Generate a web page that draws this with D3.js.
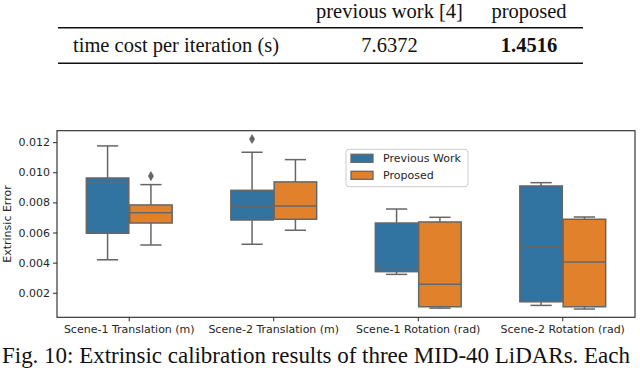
<!DOCTYPE html>
<html>
<head>
<meta charset="utf-8">
<script src="https://cdn.jsdelivr.net/npm/d3@7"></script>
<style>
  html, body { margin: 0; padding: 0; background: #fff; }
  svg { display: block; }
</style>
</head>
<body>
<svg id="chart" width="640" height="368"></svg>
<script>
// ---------- data ----------
const tableColumns = ["previous work [4]", "proposed"];
const tableRowLabel = "time cost per iteration (s)";
const tableValues = ["7.6372", "1.4516"];

const categories = ["Scene-1 Translation (m)", "Scene-2 Translation (m)", "Scene-1 Rotation (rad)", "Scene-2 Rotation (rad)"];
const seriesNames = ["Previous Work", "Proposed"];
const seriesColors = ["#3274a1", "#e1812c"];

const prevLow  = [0.00419, 0.00522, 0.00322, 0.00116];
const prevQ1   = [0.00595, 0.00683, 0.00340, 0.00140];
const prevMed  = [0.00927, 0.00776, 0.00366, 0.00506];
const prevQ3   = [0.00962, 0.00880, 0.00663, 0.00909];
const prevHigh = [0.01175, 0.01133, 0.00756, 0.00931];
const prevOut  = [[], [0.01221], [], []];

const propLow  = [0.00517, 0.00615, 0.00098, 0.00092];
const propQ1   = [0.00663, 0.00688, 0.00107, 0.00107];
const propMed  = [0.00732, 0.00776, 0.00256, 0.00404];
const propQ3   = [0.00783, 0.00936, 0.00670, 0.00688];
const propHigh = [0.00918, 0.01084, 0.00701, 0.00703];
const propOut  = [[0.00975], [], [], []];

const yTicks = [0.002, 0.004, 0.006, 0.008, 0.010, 0.012];
const yDomain = [0.00037, 0.01276];
const yLabel = "Extrinsic Error";
const caption = "Fig. 10: Extrinsic calibration results of three MID-40 LiDARs. Each";

// ---------- drawing ----------
const svg = d3.select("#chart");
const serif = "'Liberation Serif', 'Times New Roman', serif";
const sans = "'DejaVu Sans', sans-serif";

// Table
const tbl = svg.append("g");
const colCenters = [389.5, 529];
tbl.selectAll("text.hdr").data(tableColumns).join("text")
  .attr("x", (d, i) => colCenters[i]).attr("y", 17.5)
  .attr("text-anchor", "middle").attr("font-family", serif).attr("font-size", 20.5)
  .attr("fill", "#111").text(d => d);
[27.7, 63.3].forEach(y => tbl.append("line")
  .attr("x1", 58).attr("x2", 583).attr("y1", y).attr("y2", y)
  .attr("stroke", "#111").attr("stroke-width", 1.4));
tbl.append("text").attr("x", 73).attr("y", 51.5)
  .attr("font-family", serif).attr("font-size", 20.5).attr("fill", "#111").text(tableRowLabel);
tbl.selectAll("text.val").data(tableValues).join("text")
  .attr("x", (d, i) => colCenters[i]).attr("y", 51.5)
  .attr("text-anchor", "middle").attr("font-family", serif).attr("font-size", 20.5)
  .attr("font-weight", (d, i) => i === 1 ? "bold" : "normal")
  .attr("fill", "#111").text(d => d);

// Box plot
const plot = { left: 57, right: 635, top: 130.7, bottom: 317.3 };
const x = d3.scaleBand().domain(categories).range([plot.left, plot.right]).padding(0);
const y = d3.scaleLinear().domain(yDomain).range([plot.bottom, plot.top]);

const series = [
  { low: prevLow, q1: prevQ1, med: prevMed, q3: prevQ3, high: prevHigh, out: prevOut },
  { low: propLow, q1: propQ1, med: propMed, q3: propQ3, high: propHigh, out: propOut }
];
const groupWidth = 0.6;
const hueW = x.bandwidth() * groupWidth / seriesNames.length;
const boxW = hueW * 0.98;
const lineColor = "#666666";

const boxes = [];
series.forEach((s, si) => categories.forEach((c, ci) => {
  const cx = x(c) + x.bandwidth() / 2 - x.bandwidth() * groupWidth / 2 + hueW * (si + 0.5);
  boxes.push({ cx, si, low: s.low[ci], q1: s.q1[ci], med: s.med[ci], q3: s.q3[ci], high: s.high[ci], out: s.out[ci] });
}));

const bg = svg.append("g");
boxes.forEach(b => {
  const g = bg.append("g");
  // whiskers
  g.append("line").attr("x1", b.cx).attr("x2", b.cx).attr("y1", y(b.q3)).attr("y2", y(b.high))
    .attr("stroke", lineColor).attr("stroke-width", 1.5);
  g.append("line").attr("x1", b.cx).attr("x2", b.cx).attr("y1", y(b.q1)).attr("y2", y(b.low))
    .attr("stroke", lineColor).attr("stroke-width", 1.5);
  [b.low, b.high].forEach(v => g.append("line")
    .attr("x1", b.cx - boxW / 4).attr("x2", b.cx + boxW / 4).attr("y1", y(v)).attr("y2", y(v))
    .attr("stroke", lineColor).attr("stroke-width", 1.5));
  // box
  g.append("rect").attr("x", b.cx - boxW / 2).attr("width", boxW)
    .attr("y", y(b.q3)).attr("height", y(b.q1) - y(b.q3))
    .attr("fill", seriesColors[b.si]).attr("stroke", lineColor).attr("stroke-width", 1.5);
  // median
  g.append("line").attr("x1", b.cx - boxW / 2).attr("x2", b.cx + boxW / 2)
    .attr("y1", y(b.med)).attr("y2", y(b.med)).attr("stroke", lineColor).attr("stroke-width", 1.5);
  // outliers (diamonds)
  g.selectAll("path.out").data(b.out).join("path")
    .attr("transform", d => `translate(${b.cx},${y(d)})`)
    .attr("d", d3.symbol(d3.symbolDiamond, 30)())
    .attr("fill", lineColor);
});

// frame
svg.append("rect").attr("x", plot.left).attr("y", plot.top)
  .attr("width", plot.right - plot.left).attr("height", plot.bottom - plot.top)
  .attr("fill", "none").attr("stroke", "#262626").attr("stroke-width", 1.1);

// axes
const yAxis = d3.axisLeft(y).tickValues(yTicks).tickFormat(d3.format(".3f")).tickSize(4).tickPadding(3);
const yg = svg.append("g").attr("transform", `translate(${plot.left},0)`).call(yAxis);
const xAxis = d3.axisBottom(x).tickSize(4).tickPadding(4);
const xg = svg.append("g").attr("transform", `translate(0,${plot.bottom})`).call(xAxis);
[yg, xg].forEach(g => {
  g.select(".domain").remove();
  g.selectAll(".tick line").attr("stroke", "#262626").attr("stroke-width", 1);
  g.selectAll(".tick text").attr("font-family", sans).attr("font-size", 11).attr("fill", "#262626");
});

svg.append("text")
  .attr("transform", `translate(11,${(plot.top + plot.bottom) / 2}) rotate(-90)`)
  .attr("text-anchor", "middle").attr("font-family", sans).attr("font-size", 11)
  .attr("fill", "#262626").text(yLabel);

// legend
const lg = svg.append("g");
lg.append("rect").attr("x", 346).attr("y", 149.3).attr("width", 122).attr("height", 37.4)
  .attr("rx", 3).attr("fill", "#fff").attr("fill-opacity", 0.8)
  .attr("stroke", "#cccccc").attr("stroke-width", 1);
seriesNames.forEach((n, i) => {
  const yy = 154.3 + i * 17;
  lg.append("rect").attr("x", 351).attr("y", yy).attr("width", 22).attr("height", 8)
    .attr("fill", seriesColors[i]).attr("stroke", lineColor).attr("stroke-width", 1.3);
  lg.append("text").attr("x", 383).attr("y", yy + 8).attr("font-family", sans).attr("font-size", 11)
    .attr("fill", "#262626").text(n);
});

// caption
svg.append("text").attr("x", 2).attr("y", 363)
  .attr("font-family", serif).attr("font-size", 23).attr("fill", "#111")
  .attr("textLength", 628).attr("lengthAdjust", "spacing").text(caption);
</script>
</body>
</html>
